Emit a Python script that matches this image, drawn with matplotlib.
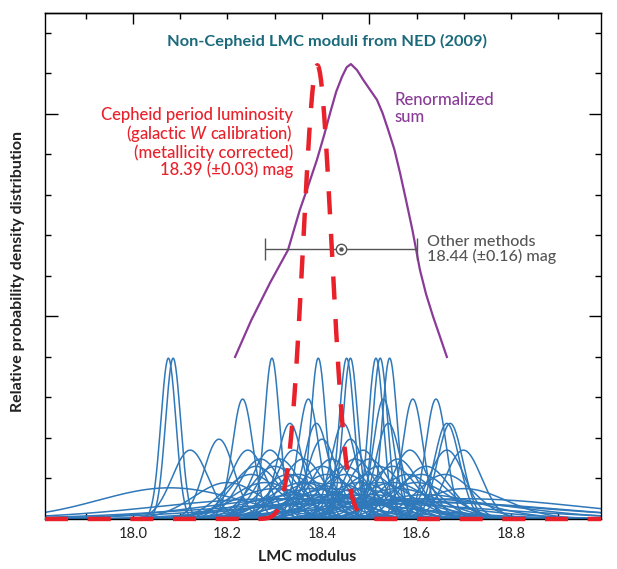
import numpy as np
import matplotlib
matplotlib.use("Agg")
import matplotlib.pyplot as plt
from matplotlib.ticker import MultipleLocator

plt.rcParams['font.family'] = ['Lato', 'DejaVu Sans']
plt.rcParams['mathtext.fontset'] = 'custom'
plt.rcParams['mathtext.rm'] = 'Lato:medium'
plt.rcParams['mathtext.it'] = 'Lato:italic:medium'

# ---------------- data ----------------
# individual non-Cepheid moduli (mean, width, peak height)
blue_mu = [18.075, 18.085, 18.294, 18.392, 18.452, 18.460, 18.514, 18.523, 18.543,
           18.232, 18.371, 18.530, 18.592, 18.641,
           18.332, 18.388, 18.445, 18.540, 18.664, 18.671,
           18.182, 18.460, 18.400,
           18.121, 18.243, 18.290, 18.340, 18.487, 18.586, 18.664, 18.699,
           18.27, 18.36, 18.42, 18.50, 18.56, 18.31, 18.47,
           18.30, 18.40, 18.55, 18.62, 18.45, 18.26, 18.52,
           18.25, 18.35, 18.45, 18.58, 18.66, 18.50, 18.33, 18.41, 18.61,
           18.20, 18.38, 18.48, 18.52, 18.60, 18.43, 18.28, 18.55, 18.36,
           18.078,
           18.30, 18.42, 18.56, 18.70, 18.48, 18.38,
           18.40, 18.50, 18.35, 18.62, 18.45,
           18.35, 18.47, 18.60,
           18.30, 18.70, 18.65,
           18.45, 18.55]
blue_sigma = [0.016] * 9 + [0.022] * 5 + [0.027] * 6 + [0.032] * 3 + [0.038] * 8 + \
             [0.045] * 7 + [0.052] * 7 + [0.060] * 9 + [0.072] * 9 + [0.15] + \
             [0.09] * 6 + [0.12] * 5 + [0.20] * 3 + [0.25] * 3 + [0.30] * 2
blue_peak = [3.97] * 9 + [2.96] * 5 + [2.36] * 6 + [1.97] * 3 + [1.70] * 8 + \
            [1.48] * 7 + [1.30] * 7 + [1.10] * 9 + [0.90] * 9 + [0.77] + \
            [0.75] * 6 + [0.60] * 5 + [0.50] * 3 + [0.50, 0.50, 0.40] + [0.40, 0.45]

# renormalized sum
sum_x = [18.216, 18.250, 18.290, 18.328, 18.353, 18.370, 18.389, 18.405, 18.417,
         18.430, 18.442, 18.452, 18.461, 18.474, 18.487, 18.500, 18.516, 18.528,
         18.540, 18.553, 18.565, 18.578, 18.591, 18.607, 18.620, 18.635, 18.650, 18.664]
sum_y = [4.00, 4.90, 5.83, 6.64, 7.63, 8.20, 8.86, 9.50, 10.02,
         10.55, 10.91, 11.15, 11.23, 11.08, 10.84, 10.62, 10.35, 10.02,
         9.60, 9.12, 8.54, 7.85, 7.14, 6.15, 5.55, 4.99, 4.48, 4.00]

# Cepheid PL result
ceph_mu = 18.39
ceph_sigma = 0.03
ceph_peak = 11.2

# other methods
other_mu = 18.44
other_err = 0.16
other_y = 6.66

xlim = (17.814, 18.990)
ylim = (0.0, 12.49)

# ---------------- figure ----------------
W, H = 617, 569
fig = plt.figure(figsize=(W / 100, H / 100), dpi=100)
ax = fig.add_axes([45 / W, 1 - 519 / H, (601 - 45) / W, (519 - 13) / H])
ax.set_xlim(*xlim)
ax.set_ylim(*ylim)

def fx(px):
    return px / W

def fy(py):
    return 1 - py / H

xx = np.linspace(xlim[0], xlim[1], 1200)
blue = '#2f78b9'
for m, s, p in zip(blue_mu, blue_sigma, blue_peak):
    ax.plot(xx, p * np.exp(-0.5 * ((xx - m) / s) ** 2), color=blue, lw=1.1, zorder=2)

purple = '#8a3b97'
ax.plot(sum_x, sum_y, color=purple, lw=1.6, zorder=3)

red = '#e8212b'
ax.plot(xx, ceph_peak * np.exp(-0.5 * ((xx - ceph_mu) / ceph_sigma) ** 2),
        color=red, lw=3.2, dashes=(5.2, 4.4), zorder=6, clip_on=False,
        solid_capstyle='butt', dash_capstyle='butt')

grey = '#555555'
ax.errorbar([other_mu], [other_y], xerr=[[other_err], [other_err]], fmt='none',
            ecolor=grey, elinewidth=1.0, capsize=8, capthick=1.0, zorder=4)
ax.plot([other_mu], [other_y], 'o', ms=7.5, mfc='white', mec=grey, mew=1.0, zorder=7)
ax.plot([other_mu], [other_y], 'o', ms=2.2, color=grey, zorder=8)

# ticks
for sp in ax.spines.values():
    sp.set_linewidth(1.0)
ax.xaxis.set_major_locator(MultipleLocator(0.2))
ax.xaxis.set_minor_locator(MultipleLocator(0.1))
ax.xaxis.set_major_formatter(plt.FuncFormatter(lambda v, p: f"{v:.1f}"))
ax.tick_params(axis='x', which='both', direction='in', length=4, width=1.0,
               top=False, labelsize=10.5, pad=6, labelcolor='#222222')
ax.yaxis.set_major_locator(MultipleLocator(5))
ax.yaxis.set_minor_locator(MultipleLocator(1))
ax.tick_params(axis='y', which='major', direction='in', length=9, width=1.0,
               left=True, right=True, labelleft=False)
ax.tick_params(axis='y', which='minor', direction='in', length=4.5, width=1.0,
               left=True, right=True)
sec = ax.secondary_xaxis('top')
sec.xaxis.set_major_locator(MultipleLocator(0.5))
sec.xaxis.set_minor_locator(MultipleLocator(0.1))
sec.tick_params(axis='x', which='major', direction='in', length=8, width=1.0, labeltop=False)
sec.tick_params(axis='x', which='minor', direction='in', length=4, width=1.0)
sec.spines['top'].set_linewidth(1.0)

# labels
fig.text(fx(307), fy(557), 'LMC modulus', ha='center', va='center',
         fontsize=11.5, fontweight='bold', color='#222222')
fig.text(fx(18), fy(272), 'Relative probability density distribution', ha='center',
         va='center', rotation=90, fontsize=11.5, fontweight='bold', color='#222222')
fig.text(fx(327), fy(41), 'Non-Cepheid LMC moduli from NED (2009)', ha='center',
         va='center', fontsize=11.8, fontweight='bold', color='#1a6a7b')

red_text = ('Cepheid period luminosity\n(galactic $\\mathit{W}$ calibration)\n'
            '(metallicity corrected)\n18.39 (\u00b10.03) mag')
fig.text(fx(293), fy(142.5), red_text, ha='right', va='center', multialignment='right',
         fontsize=12, color=red, linespacing=1.03, fontweight='medium')

fig.text(fx(394), fy(108.5), 'Renormalized\nsum', ha='left', va='center',
         fontsize=12, color=purple, linespacing=1.03, fontweight='medium')
fig.text(fx(427), fy(249.5), 'Other methods\n18.44 (\u00b10.16) mag', ha='left', va='center',
         fontsize=11.6, color=grey, linespacing=1.05, fontweight='medium')

fig.savefig('out.png', dpi=100)
